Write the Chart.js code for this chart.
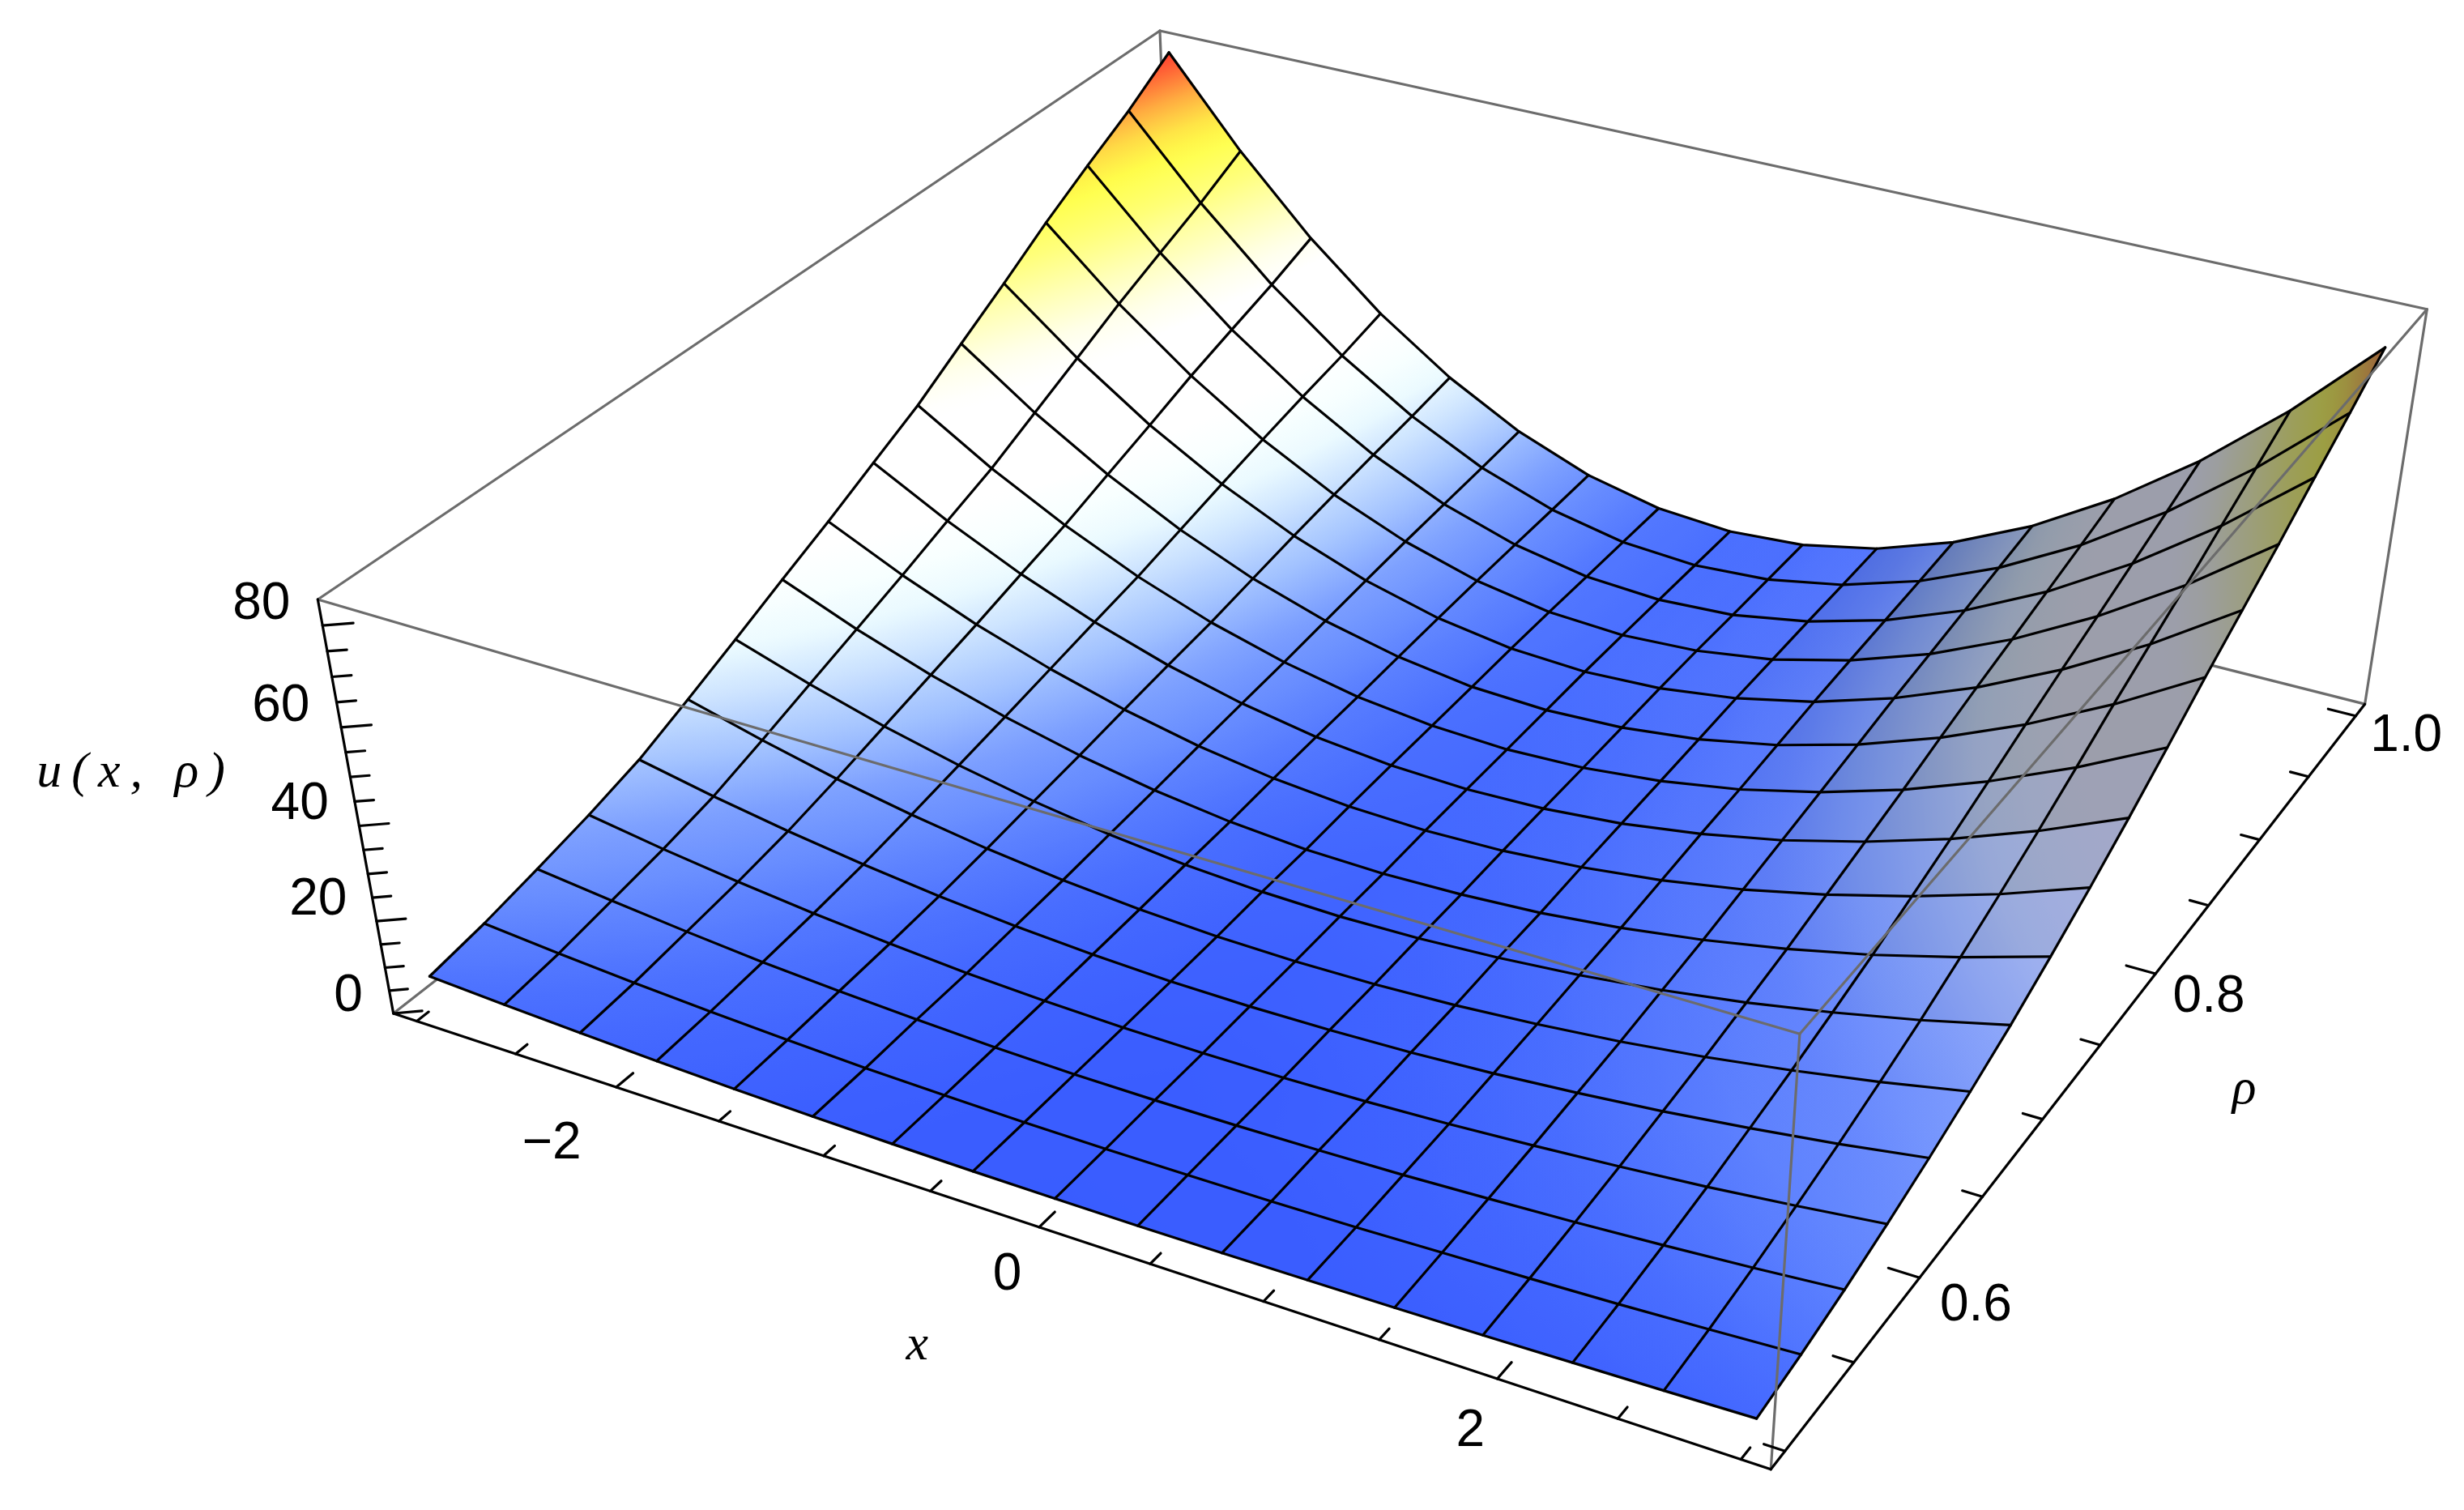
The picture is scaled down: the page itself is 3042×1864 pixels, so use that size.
<!doctype html><html><head><meta charset="utf-8"><script src="https://cdn.jsdelivr.net/npm/chart.js@4"></script></head><body style="margin:0;background:#fff"><canvas id="c" width="3042" height="1864" style="display:block"></canvas><script>
const xValues=[-3,-2.625,-2.25,-1.875,-1.5,-1.125,-.75,-.375,0,.375,.75,1.125,1.5,1.875,2.25,2.625,3];
const rhoValues=[.5,.53125,.5625,.59375,.625,.65625,.6875,.71875,.75,.78125,.8125,.84375,.875,.90625,.9375,.96875,1];
const uRow00=[6.7,5.8,5.0,4.3,3.7,3.3,3.0,2.8,2.7,2.7,2.8,3.0,3.2,3.5,3.9,4.3,4.8];
const uRow01=[8.7,7.3,6.1,5.1,4.3,3.6,3.2,2.9,2.8,2.9,3.0,3.3,3.8,4.3,4.9,5.7,6.6];
const uRow02=[11.3,9.4,7.7,6.2,5.1,4.2,3.5,3.1,3.0,3.1,3.4,3.8,4.5,5.3,6.3,7.5,8.9];
const uRow03=[14.1,11.5,9.3,7.4,5.9,4.6,3.8,3.3,3.1,3.2,3.6,4.3,5.3,6.5,7.9,9.7,11.7];
const uRow04=[17.4,14.1,11.3,8.9,6.9,5.4,4.3,3.6,3.4,3.6,4.1,5.0,6.3,7.9,9.9,12.2,14.9];
const uRow05=[22.0,17.7,13.9,10.8,8.2,6.2,4.8,3.9,3.6,3.8,4.5,5.7,7.3,9.4,12.0,15.0,18.5];
const uRow06=[26.8,21.5,16.8,12.9,9.7,7.2,5.4,4.4,4.0,4.3,5.2,6.6,8.6,11.2,14.4,18.1,22.4];
const uRow07=[31.8,25.3,19.7,15.0,11.1,8.1,5.9,4.6,4.2,4.6,5.6,7.4,9.9,13.1,17.0,21.7,27.0];
const uRow08=[36.6,29.1,22.6,17.2,12.7,9.2,6.7,5.2,4.7,5.1,6.4,8.5,11.5,15.4,20.1,25.6,32.0];
const uRow09=[41.8,33.2,25.7,19.4,14.2,10.2,7.3,5.6,5.0,5.5,7.0,9.6,13.1,17.7,23.2,29.8,37.4];
const uRow10=[46.9,37.1,28.7,21.5,15.6,11.1,7.8,5.9,5.2,5.8,7.6,10.5,14.7,20.0,26.6,34.3,43.2];
const uRow11=[53.1,41.9,32.3,24.1,17.4,12.2,8.5,6.2,5.5,6.2,8.2,11.6,16.4,22.6,30.1,39.0,49.2];
const uRow12=[59.2,46.7,35.8,26.7,19.2,13.3,9.1,6.6,5.8,6.6,8.9,12.7,18.1,25.0,33.4,43.3,54.8];
const uRow13=[65.6,51.6,39.5,29.2,20.8,14.3,9.6,6.8,5.9,6.8,9.3,13.6,19.5,27.2,36.6,47.6,60.4];
const uRow14=[71.4,56.0,42.7,31.5,22.3,15.1,10.0,6.9,5.9,6.8,9.7,14.4,21.0,29.5,39.9,52.2,66.4];
const uRow15=[76.9,60.3,45.8,33.6,23.7,15.9,10.3,7.0,5.9,6.9,10.0,15.2,22.5,31.8,43.2,56.7,72.2];
const uRow16=[83.3,65.2,49.4,36.1,25.3,16.8,10.7,7.1,5.9,7.0,10.4,16.1,24.0,34.2,46.6,61.3,78.3];
const uRows=[uRow00,uRow01,uRow02,uRow03,uRow04,uRow05,uRow06,uRow07,uRow08,uRow09,uRow10,uRow11,uRow12,uRow13,uRow14,uRow15,uRow16];
const xTicks=[-3,-2.5,-2,-1.5,-1,-.5,0,.5,1,1.5,2,2.5,3],xLabeled=[-2,0,2];
const rhoTicks=[.5,.55,.6,.65,.7,.75,.8,.85,.9,.95,1],rhoLabeled=[.6,.8,1];
const uTicks=[0,5,10,15,20,25,30,35,40,45,50,55,60,65,70,75,80],uLabeled=[0,20,40,60,80];
const CAMERA=[1443.74495,1278.19028,-120.10708,485.66940,349.74927,-645.83403,-561.49148,1250.98404,-0.11748,0.21613,-0.06822];
const BOX={x:[-3.12,3.12],rho:[0.49,1.01],u:[0,85]};
const COLORMAP=[[0,52,88,255],[3,58,93,255],[6,75,112,255],[10,105,142,255],[13,125,160,255],[17,162,194,255],[22,205,228,255],[26,235,250,255],[30,248,255,255],[34,255,255,255],[46,255,255,255],[50,255,255,235],[56,255,255,180],[62,255,255,120],[68,255,255,75],[72,255,225,70],[76,255,175,65],[80,255,110,55],[84,255,50,45]];
function project(x,rho,u){const X=(x-BOX.x[0])/(BOX.x[1]-BOX.x[0]),Y=(rho-BOX.rho[0])/(BOX.rho[1]-BOX.rho[0]),Z=(u-BOX.u[0])/(BOX.u[1]-BOX.u[0]),h=CAMERA,w=h[8]*X+h[9]*Y+h[10]*Z+1;return{x:(h[0]*X+h[1]*Y+h[2]*Z+h[3])/w,y:(h[4]*X+h[5]*Y+h[6]*Z+h[7])/w};}
function colorAt(u){const m=COLORMAP;if(u<=m[0][0])return m[0].slice(1);for(let i=1;i<m.length;i++)if(u<=m[i][0]){const t=(u-m[i-1][0])/(m[i][0]-m[i-1][0]);return[1,2,3].map(k=>m[i-1][k]+t*(m[i][k]-m[i-1][k]));}return m[m.length-1].slice(1);}
const rgb=c=>`rgb(${c.map(Math.round).join(',')})`;
const smooth=(v,a,b)=>{const t=Math.min(1,Math.max(0,(v-a)/(b-a)));return t*t*(3-2*t);};
function slopeAt(i,j){const a=Math.max(i-1,0),b=Math.min(i+1,16);return(uRows[j][b]-uRows[j][a])/(xValues[b]-xValues[a]);}
function shadeAt(i,j){return .42*smooth(slopeAt(i,j),1,10);}
function fitAxis(pts,vals){let mx=0,my=0,mv=0;pts.forEach((p,k)=>{mx+=p.x/4;my+=p.y/4;mv+=vals[k]/4});let a=0,b=0,c=0,d=0,e=0;pts.forEach((p,k)=>{const dx=p.x-mx,dy=p.y-my,dv=vals[k]-mv;a+=dx*dx;b+=dx*dy;c+=dy*dy;d+=dx*dv;e+=dy*dv});const D=a*c-b*b,gx=(d*c-e*b)/D,gy=(a*e-b*d)/D,n=Math.hypot(gx,gy);if(!(n>1e-7))return{flat:true,v:mv};const ux=gx/n,uy=gy/n;let lo=1e9,hi=-1e9;pts.forEach(p=>{const t=(p.x-mx)*ux+(p.y-my)*uy;lo=Math.min(lo,t);hi=Math.max(hi,t)});return{x0:mx+ux*lo,y0:my+uy*lo,x1:mx+ux*hi,y1:my+uy*hi,v0:mv+n*lo,v1:mv+n*hi};}
function cellPts(i,j){return[[i,j],[i+1,j],[i+1,j+1],[i,j+1]].map(([a,b])=>project(xValues[a],rhoValues[b],uRows[b][a]));}
function cellVals(i,j,fn){return[fn(i,j),fn(i+1,j),fn(i+1,j+1),fn(i,j+1)];}
function px(ch,p){const a=ch.scales.x.getPixelForValue(p.x),b=ch.scales.y.getPixelForValue(p.y);return Number.isFinite(a)&&Number.isFinite(b)?{x:a,y:b}:p;}
function baseFill(ch,i,j){const f=fitAxis(cellPts(i,j).map(p=>px(ch,p)),cellVals(i,j,(a,b)=>uRows[b][a]));if(f.flat)return rgb(colorAt(f.v));const g=ch.ctx.createLinearGradient(f.x0,f.y0,f.x1,f.y1);for(let k=0;k<=10;k++)g.addColorStop(k/10,rgb(colorAt(f.v0+(f.v1-f.v0)*k/10)));return g;}
function shadeTone(i,j){const s=cellVals(i,j,slopeAt).reduce((a,b)=>a+b,0)/4,t=smooth(s,8,25);return[55+(20-55)*t,85+(25-85)*t,250+(55-250)*t].map(Math.round).join(',');}
function shadeFill(ch,i,j){const tone=shadeTone(i,j),col=a=>`rgba(${tone},${Math.max(0,a).toFixed(3)})`,f=fitAxis(cellPts(i,j).map(p=>px(ch,p)),cellVals(i,j,shadeAt));if(f.flat)return col(f.v);const g=ch.ctx.createLinearGradient(f.x0,f.y0,f.x1,f.y1);g.addColorStop(0,col(f.v0));g.addColorStop(1,col(f.v1));return g;}
const line=(data,color,width)=>({data,showLine:true,fill:false,borderColor:color,borderWidth:width,pointRadius:0,tension:0,borderJoinStyle:'round',borderCapStyle:'round'});
const GRAY='#6c6c6c',BLACK='#000';
const bx=BOX.x,br=BOX.rho,bu=BOX.u;
const seg=(a,b,c)=>line([project(...a),project(...b)],c,3.2);
const layers=[];
[[[bx[0],br[0],bu[1]],[bx[0],br[1],bu[1]]],[[bx[0],br[1],bu[1]],[bx[1],br[1],bu[1]]],[[bx[1],br[1],bu[1]],[bx[1],br[1],bu[0]]],[[bx[0],br[1],bu[1]],[bx[0],br[1],bu[0]]],[[bx[0],br[0],bu[0]],[bx[0],br[1],bu[0]]],[[bx[1],br[1],bu[0]],[bx[0],br[1],bu[0]]]].forEach(s=>layers.push(seg(s[0],s[1],GRAY)));
for(let j=15;j>=0;j--)for(let i=0;i<16;i++){
 const data=cellPts(i,j),opts={data,showLine:true,pointRadius:0,borderWidth:0,tension:0,fill:'shape'};
 layers.push({...opts,backgroundColor:c=>baseFill(c.chart,i,j)});
 if(Math.max(...cellVals(i,j,shadeAt))>.004)layers.push({...opts,backgroundColor:c=>shadeFill(c.chart,i,j)});
}
rhoValues.forEach((r,j)=>layers.push(line(xValues.map((x,i)=>project(x,r,uRows[j][i])),BLACK,3.2)));
xValues.forEach((x,i)=>layers.push(line(rhoValues.map((r,j)=>project(x,r,uRows[j][i])),BLACK,3.2)));
[[[bx[0],br[0],bu[1]],[bx[1],br[0],bu[1]]],[[bx[1],br[0],bu[1]],[bx[1],br[1],bu[1]]],[[bx[1],br[0],bu[1]],[bx[1],br[0],bu[0]]]].forEach(s=>layers.push(seg(s[0],s[1],GRAY)));
layers.push(seg([bx[0],br[0],bu[1]],[bx[0],br[0],bu[0]],BLACK),seg([bx[0],br[0],bu[0]],[bx[1],br[0],bu[0]],BLACK),seg([bx[1],br[0],bu[0]],[bx[1],br[1],bu[0]],BLACK));
xTicks.forEach(t=>{const k=xLabeled.includes(t)?.0095:.0065;layers.push(seg([t,br[0],bu[0]],[t,br[0]+k,bu[0]],BLACK))});
rhoTicks.forEach(t=>{const k=rhoLabeled.includes(t)?.13:.085;layers.push(seg([bx[1],t,bu[0]],[bx[1]-k,t,bu[0]],BLACK))});
uTicks.forEach(t=>{const m=uLabeled.includes(t)?1:.64;layers.push(seg([bx[0],br[0],t],[bx[0]+.092*m,br[0]+.0059*m,t],BLACK))});
const textLayer={id:'textLayer',afterDraw(ch){const c=ch.ctx;c.save();c.fillStyle='#000';c.textAlign='center';c.textBaseline='middle';
 const put=(s,p)=>{const q=px(ch,p);c.fillText(s,q.x,q.y)};
 c.font='64px "Liberation Sans"';
 const minus=v=>String(v).replace('-','\u2212');
 xLabeled.forEach(v=>put(minus(v),v<0?project(v+.01,.453,0):project(v+.06,.463,0)));
 rhoLabeled.forEach(v=>put(v.toFixed(1),project(3.38,v-.0052,0)));
 uLabeled.forEach(v=>put(String(v),project(v===0?-3.35:-3.415,.49,v+.5)));
 c.font='italic 62px "Liberation Serif"';
 put('x',project(0,.4186,0));put('\u03c1',project(3.75,.748,0));
 c.letterSpacing='12px';put('u(x, \u03c1)',project(-4.28,.49,36));c.restore();}};
new Chart(document.getElementById('c'),{type:'scatter',data:{datasets:layers.reverse()},options:{responsive:false,animation:false,devicePixelRatio:1,layout:{padding:0},parsing:false,normalized:false,events:[],plugins:{legend:{display:false},tooltip:{enabled:false},title:{display:false}},scales:{x:{type:'linear',min:0,max:3042,display:false},y:{type:'linear',min:0,max:1864,reverse:true,display:false}}},plugins:[textLayer]});
</script></body></html>
